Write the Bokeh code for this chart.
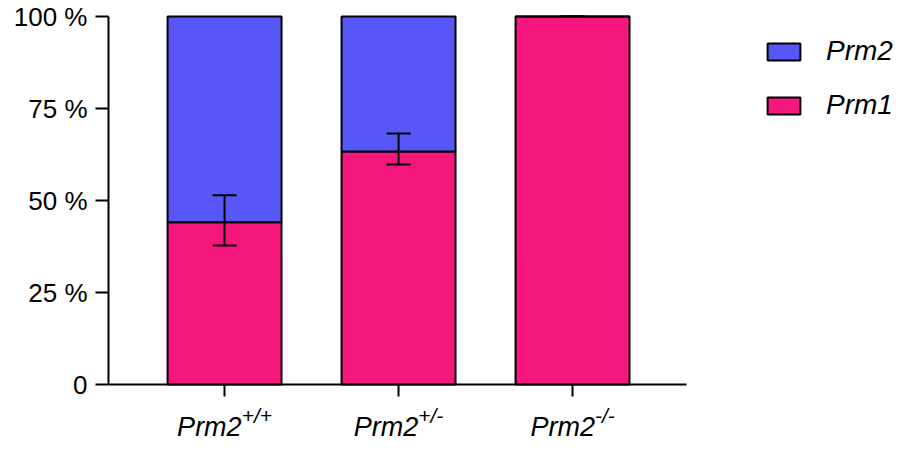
from bokeh.plotting import figure
from bokeh.models import (ColumnDataSource, Range1d, FixedTicker, Whisker, TeeHead,
                          Legend, LegendItem, LinearAxis)
from bokeh.core.properties import value
from bokeh.embed import file_html
from bokeh.resources import INLINE

# ---- data ----
genotypes = ["Prm2", "Prm2", "Prm2"]
superscripts = ["+/+", "+/-", "-/-"]
prm1 = [44.1, 63.3, 100.0]
prm2 = [55.9, 36.7, 0.0]
err_upper = [51.4, 68.2, 100.0]
err_lower = [37.8, 59.8, 100.0]
y_ticks = [0, 25, 50, 75, 100]
y_tick_labels = ["0", "25 %", "50 %", "75 %", "100 %"]

BLUE = "#5757F9"
PINK = "#F5177E"
FONT = "Liberation Sans"

# ---- layout constants (pixels) ----
W, H = 900, 440
LEFT = 108          # space for y axis
TOP = 12            # space above frame
PX_X = 174.0        # pixels per category
PX_Y = 3.68         # pixels per percent
Y0_PX = 384         # pixel row of 0 %
X_START = -0.667

xs = list(range(len(genotypes)))
tops = [a + b for a, b in zip(prm1, prm2)]

# approximate Arial advance widths (em) to centre "Prm2" + superscript on tick
cw = {"+": 0.584, "/": 0.278, "-": 0.333, "P": 0.667, "r": 0.333, "m": 0.833, "2": 0.556}
MAIN = 27
SUP = 21
main_w = [sum(cw[c] for c in g) * MAIN for g in genotypes]
sup_w = [sum(cw[c] for c in s) * SUP for s in superscripts]
split = [(m - s) / 2 for m, s in zip(main_w, sup_w)]

src = ColumnDataSource(dict(x=xs, prm1=prm1, top=tops, up=err_upper, lo=err_lower,
                            g=genotypes, sup=superscripts, off=split,
                            zero=[0] * len(xs)))

y_end = (Y0_PX - TOP) / PX_Y
y_start = -(H - Y0_PX) / PX_Y
x_end = X_START + (W - LEFT) / PX_X

p = figure(width=W, height=H, output_backend="svg", toolbar_location=None,
           x_range=Range1d(X_START, x_end), y_range=Range1d(y_start, y_end),
           x_axis_location=None,
           min_border_left=LEFT, min_border_right=0, min_border_top=TOP,
           min_border_bottom=0)
p.outline_line_color = None
p.grid.visible = False

r1 = p.vbar(x="x", bottom=0, top="prm1", width=0.655, source=src,
            fill_color=PINK, line_color="black", line_width=2)
r2 = p.vbar(x="x", bottom="prm1", top="top", width=0.655, source=src,
            fill_color=BLUE, line_color="black", line_width=2)

w = Whisker(base="x", upper="up", lower="lo", source=src, dimension="height",
            line_width=2, line_color="black", level="overlay",
            upper_head=TeeHead(size=24, line_width=2, line_color="black"),
            lower_head=TeeHead(size=24, line_width=2, line_color="black"))
p.add_layout(w)

# y axis
ya = p.yaxis[0]
ya.ticker = FixedTicker(ticks=y_ticks)
ya.bounds = (0, 100)
ya.major_label_overrides = {t: l for t, l in zip(y_ticks, y_tick_labels)}
ya.major_label_text_font = FONT
ya.major_label_text_font_size = "26px"
ya.major_label_text_color = "black"
ya.major_label_standoff = 8
ya.axis_line_width = 2
ya.major_tick_line_width = 2
ya.major_tick_out = 13
ya.major_tick_in = 0
ya.minor_tick_line_color = None

# x axis drawn at 0 %
xa = LinearAxis(fixed_location=0, ticker=FixedTicker(ticks=xs),
                bounds=(X_START, 2 - X_START - 0.012),
                major_label_overrides={i: "" for i in xs},
                axis_line_width=2, major_tick_line_width=2,
                major_tick_out=12, major_tick_in=0, minor_tick_line_color=None)
p.add_layout(xa, "below")

# x labels: italic "Prm2" with superscript genotype
p.text(x="x", y="zero", text="g", source=src, x_offset="off", y_offset=42,
       text_align="right", text_baseline="alphabetic",
       text_font=value(FONT), text_font_style="italic",
       text_font_size=f"{MAIN}px", text_color="black")
p.text(x="x", y="zero", text="sup", source=src, x_offset="off", y_offset=31,
       text_align="left", text_baseline="alphabetic",
       text_font=value(FONT), text_font_style="italic",
       text_font_size=f"{SUP}px", text_color="black")

legend = Legend(items=[LegendItem(label="Prm2", renderers=[r2]),
                       LegendItem(label="Prm1", renderers=[r1])],
                location=(655, 319), orientation="vertical",
                glyph_width=41, glyph_height=21, label_standoff=22, spacing=22,
                label_text_font=FONT, label_text_font_style="italic",
                label_text_font_size="28px", label_text_color="black",
                border_line_color=None, background_fill_alpha=0, padding=0, margin=0)
p.add_layout(legend, "center")

open("out.html", "w").write(file_html(p, INLINE))
